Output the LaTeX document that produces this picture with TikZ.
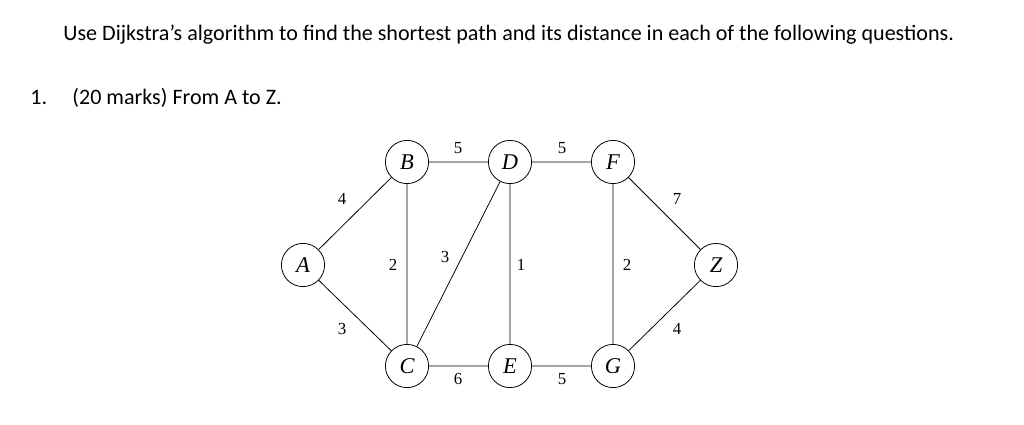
\documentclass[tikz,border=0pt]{standalone}
\usepackage{fontspec}
\setmainfont{Liberation Serif}
\newfontfamily\calib{Carlito}
\begin{document}
\begin{tikzpicture}[x=0.025cm,y=-0.025cm,line width=0.55pt,
  vtx/.style={draw,circle,minimum size=1.08cm,inner sep=0pt,font=\fontsize{16}{18}\selectfont\itshape},
  wt/.style={font=\fontsize{12}{14}\selectfont},
  txt/.style={font=\calib\fontsize{15.7}{18}\selectfont,anchor=base west,inner sep=0pt}]
\useasboundingbox (0,0) rectangle (1024,424);
\node[txt] (h) at (63,40) {Use Dijkstra’s algorithm to find the shortest path and its distance in each of the following questions.};
\node[txt] (n1) at (30,104) {1.};
\node[txt] (q) at (72,104) {(20 marks) From A to Z.};
\node[vtx] (A) at (303,265) {A};
\node[vtx] (B) at (407,162) {B};
\node[vtx] (D) at (510,162) {D};
\node[vtx] (F) at (613,162) {F};
\node[vtx] (Z) at (716,265) {Z};
\node[vtx] (C) at (407,366) {C};
\node[vtx] (E) at (510,366) {E};
\node[vtx] (G) at (613,366) {G};
\draw (A)--(B) (A)--(C) (B)--(D) (D)--(F) (F)--(Z) (Z)--(G) (B)--(C) (C)--(D) (D)--(E) (F)--(G) (C)--(E) (E)--(G);
\node[wt] (w1) at (342,199) {4};
\node[wt] (w2) at (342,329) {3};
\node[wt] (w3) at (458,148) {5};
\node[wt] (w4) at (562,148) {5};
\node[wt] (w5) at (677,199) {7};
\node[wt] (w6) at (677,329) {4};
\node[wt] (w7) at (393,265) {2};
\node[wt] (w8) at (445,257) {3};
\node[wt] (w9) at (521,265) {1};
\node[wt] (w10) at (627,265) {2};
\node[wt] (w11) at (458,379) {6};
\node[wt] (w12) at (562,379) {5};
\end{tikzpicture}
\end{document}
